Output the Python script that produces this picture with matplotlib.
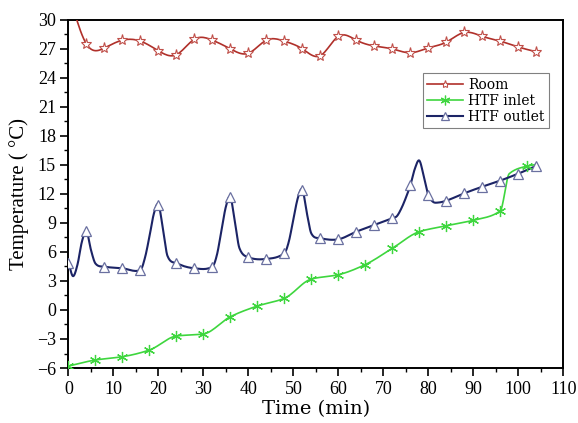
import numpy as np
import matplotlib
matplotlib.use("Agg")
import matplotlib.pyplot as plt
from matplotlib.lines import Line2D

# ---------------- data ----------------
room_t = [0, 4, 8, 12, 16, 20, 24, 28, 32, 36, 40, 44, 48, 52, 56, 60, 64, 68, 72,
          76, 80, 84, 88, 92, 96, 100, 104]
room_T = [33.0, 27.5, 27.1, 27.9, 27.8, 26.8, 26.4, 28.0, 27.9, 27.0, 26.55, 27.9,
          27.8, 27.0, 26.3, 28.3, 27.9, 27.3, 27.0, 26.6, 27.1, 27.7, 28.7, 28.3,
          27.8, 27.2, 26.7]

inlet_t = [0, 6, 12, 18, 24, 30, 36, 42, 48, 54, 60, 66, 72, 78, 84, 90, 96, 98, 102, 104]
inlet_T = [-5.8, -5.17, -4.83, -4.14, -2.69, -2.48, -0.69, 0.41, 1.21, 3.2, 3.65, 4.7,
           6.38, 8.1, 8.7, 9.28, 10.26, 14.1, 14.88, 15.05]

outlet_t = [0, 1, 2, 3, 4, 5, 6, 8, 12, 16, 17, 18, 19, 20, 21, 22, 24, 28, 32, 33, 34,
            35, 36, 37, 38, 40, 44, 48, 49, 50, 51, 52, 53, 54, 56, 60, 64, 68, 72, 73,
            74, 75, 76, 77, 78, 79, 80, 81, 82, 84, 88, 92, 96, 100, 104]
outlet_T = [4.9, 3.5, 4.7, 7.1, 8.15, 6.2, 4.8, 4.48, 4.31, 4.14, 5.4, 7.6, 10.0, 10.9,
            8.4, 5.6, 4.83, 4.31, 4.48, 5.7, 8.2, 10.7, 11.66, 9.1, 6.4, 5.45, 5.28, 5.87,
            7.1, 9.4, 11.6, 12.45, 10.0, 7.9, 7.42, 7.31, 8.1, 8.79, 9.5, 9.7, 10.5, 11.6,
            12.9, 14.6, 15.45, 13.8, 11.9, 11.2, 11.1, 11.3, 12.07, 12.75, 13.38, 14.1, 14.9]

xticks = list(range(0, 111, 10))
yticks = list(range(-6, 31, 3))


def natural_spline(x, y, n=12):
    x = np.asarray(x, float)
    y = np.asarray(y, float)
    m = len(x)
    h = np.diff(x)
    A = np.zeros((m, m))
    b = np.zeros(m)
    A[0, 0] = 1
    A[-1, -1] = 1
    for i in range(1, m - 1):
        A[i, i - 1] = h[i - 1]
        A[i, i] = 2 * (h[i - 1] + h[i])
        A[i, i + 1] = h[i]
        b[i] = 6 * ((y[i + 1] - y[i]) / h[i] - (y[i] - y[i - 1]) / h[i - 1])
    M = np.linalg.solve(A, b)
    xs, ys = [], []
    for i in range(m - 1):
        t = np.linspace(x[i], x[i + 1], n, endpoint=(i == m - 2))
        a = x[i + 1] - t
        c = t - x[i]
        s = (M[i] * a ** 3 + M[i + 1] * c ** 3) / (6 * h[i]) \
            + (y[i] / h[i] - M[i] * h[i] / 6) * a \
            + (y[i + 1] / h[i] - M[i + 1] * h[i] / 6) * c
        xs.append(t)
        ys.append(s)
    return np.concatenate(xs), np.concatenate(ys)


def hermite(x, y, m, n=14):
    h = np.diff(x)
    xs, ys = [], []
    for i in range(len(x) - 1):
        t = np.linspace(0, 1, n, endpoint=(i == len(x) - 2))
        h00 = 2 * t ** 3 - 3 * t ** 2 + 1
        h10 = t ** 3 - 2 * t ** 2 + t
        h01 = -2 * t ** 3 + 3 * t ** 2
        h11 = t ** 3 - t ** 2
        ys.append(h00 * y[i] + h10 * h[i] * m[i] + h01 * y[i + 1] + h11 * h[i] * m[i + 1])
        xs.append(x[i] + t * h[i])
    return np.concatenate(xs), np.concatenate(ys)


def pchip(x, y):
    x = np.asarray(x, float)
    y = np.asarray(y, float)
    h = np.diff(x)
    d = np.diff(y) / h
    m = np.zeros_like(y)
    for k in range(1, len(x) - 1):
        if d[k - 1] * d[k] > 0:
            w1 = 2 * h[k] + h[k - 1]
            w2 = h[k] + 2 * h[k - 1]
            m[k] = (w1 + w2) / (w1 / d[k - 1] + w2 / d[k])
    m[0] = d[0]
    m[-1] = d[-1]
    return hermite(x, y, m)


def cardinal(x, y):
    x = np.asarray(x, float)
    y = np.asarray(y, float)
    m = np.zeros_like(y)
    m[1:-1] = (y[2:] - y[:-2]) / (x[2:] - x[:-2])
    m[0] = (y[1] - y[0]) / (x[1] - x[0])
    m[-1] = (y[-1] - y[-2]) / (x[-1] - x[-2])
    return hermite(x, y, m)


fig = plt.figure(figsize=(5.78, 4.23), dpi=100)
ax = fig.add_axes([0.1185, 0.130, 0.856, 0.823])

c_room = '#b0302a'
c_in = '#3ed63e'
c_out = '#1c2466'
room_kw = dict(marker='*', ms=8, mfc='white', mec='#c0504a', mew=0.8)
in_kw = dict(marker=(6, 2, 0), ms=8, mec=c_in, mew=0.9)
out_kw = dict(marker='^', ms=7, mfc='white', mec='#6a70a0', mew=0.9)

# Room
sx, sy = natural_spline(room_t, room_T)
ax.plot(sx, sy, color=c_room, lw=1.2, zorder=3)
ax.plot(room_t, room_T, ls='none', zorder=4, **room_kw)

# Inlet
sx, sy = pchip(inlet_t, inlet_T)
ax.plot(sx, sy, color=c_in, lw=1.2, zorder=3)
mk_in = [i for i, t in enumerate(inlet_t) if t % 6 == 0]
ax.plot([inlet_t[i] for i in mk_in], [inlet_T[i] for i in mk_in], ls='none',
        zorder=4, **in_kw)

# Outlet
sx, sy = cardinal(outlet_t, outlet_T)
ax.plot(sx, sy, color=c_out, lw=1.5, zorder=3)
mk_out = [i for i, t in enumerate(outlet_t) if t % 4 == 0]
ax.plot([outlet_t[i] for i in mk_out], [outlet_T[i] for i in mk_out], ls='none',
        zorder=4, **out_kw)

# legend proxies
h1 = Line2D([], [], color=c_room, lw=1.2, **dict(room_kw, ms=6))
h2 = Line2D([], [], color=c_in, lw=1.2, **dict(in_kw, ms=7))
h3 = Line2D([], [], color=c_out, lw=1.5, **dict(out_kw, ms=6))
leg = ax.legend([h1, h2, h3], ['Room', 'HTF inlet', 'HTF outlet'],
                loc='upper right', bbox_to_anchor=(0.985, 0.866), fancybox=False,
                edgecolor='#808080', framealpha=1, handlelength=2.6,
                borderpad=0.3, labelspacing=0.15, handletextpad=0.4,
                prop={'family': 'DejaVu Serif', 'size': 10})
leg.get_frame().set_linewidth(0.8)

ax.set_xlim(0, 110)
ax.set_ylim(-6, 30)
ax.set_xticks(xticks)
ax.set_yticks(yticks)
ax.set_xticks(np.arange(5, 110, 10), minor=True)
ax.set_yticks(np.arange(-4.5, 30, 3), minor=True)
ax.tick_params(which='major', direction='out', length=6, width=1.2,
               top=False, right=False, labelsize=13, pad=3)
ax.tick_params(which='minor', direction='out', length=3.2, width=1.0,
               top=False, right=False)
for lab in ax.get_xticklabels() + ax.get_yticklabels():
    lab.set_fontfamily('Liberation Serif')
for s in ax.spines.values():
    s.set_linewidth(1.4)

ax.set_xlabel('Time (min)', fontfamily='DejaVu Serif', fontsize=14, labelpad=2)
ax.set_ylabel('Temperature ( °C)', fontfamily='Liberation Serif', fontsize=15, labelpad=6)

fig.savefig('out.png', dpi=100)
